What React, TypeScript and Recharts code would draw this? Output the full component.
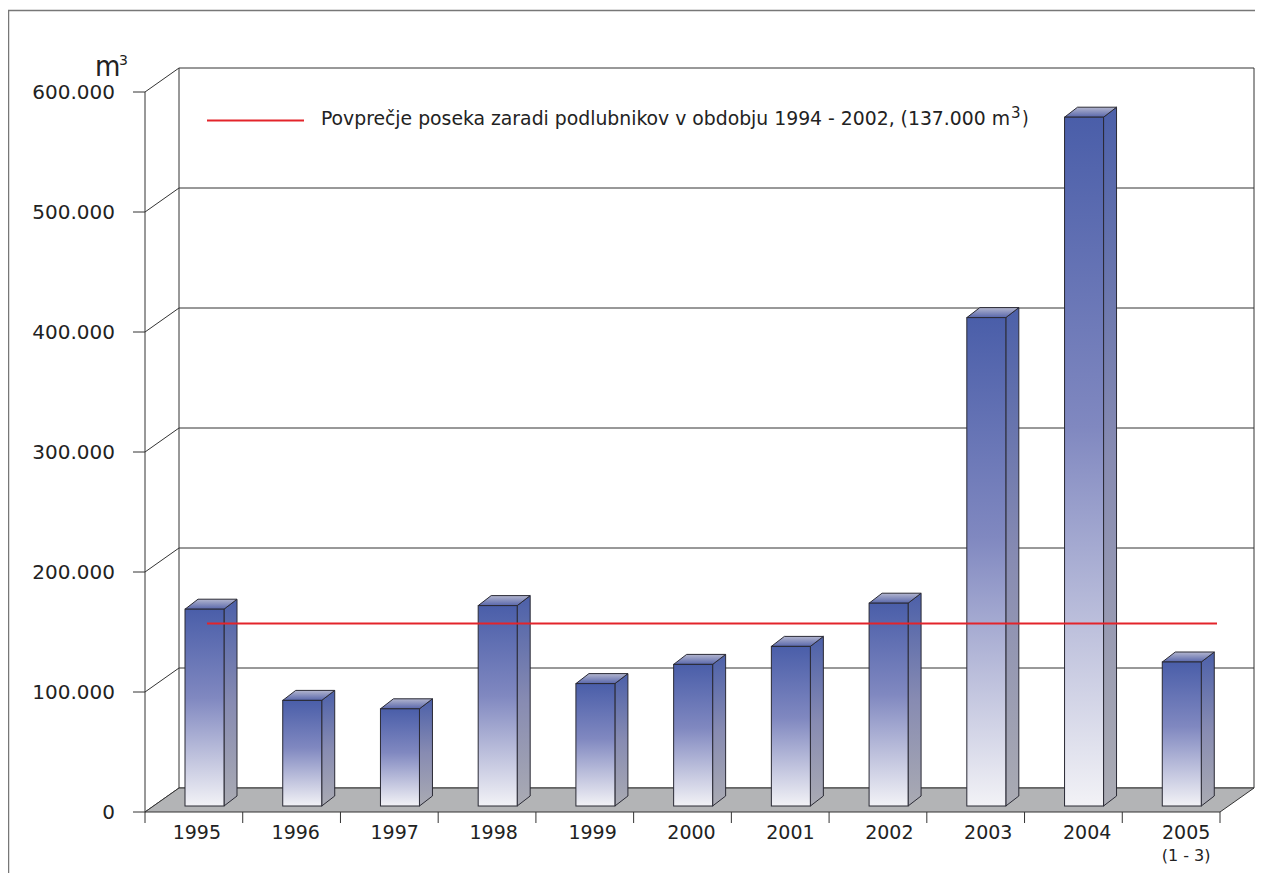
import { BarChart, Bar, XAxis, YAxis, CartesianGrid, ReferenceLine, Customized } from "recharts"

// yearly sanitary felling caused by bark beetles, m3
const years = ["1995", "1996", "1997", "1998", "1999", "2000", "2001", "2002", "2003", "2004", "2005"]
const yearNotes = ["", "", "", "", "", "", "", "", "", "", "(1 - 3)"]
const volumes = [164000, 88000, 81000, 167000, 102000, 118000, 133000, 169000, 407000, 574000, 120000]
const yTicks = [0, 100000, 200000, 300000, 400000, 500000, 600000]
const AVERAGE = 137000
const legendText = "Povprečje poseka zaradi podlubnikov v obdobju 1994 - 2002,  (137.000 m"

const data = years.map((year, i) => ({ year, volume: volumes[i] }))

// chart box and the fake 3D depth of the back wall
const W = 1255
const H = 873
const LEFT = 137
const RIGHT = 1212
const TOP = 84
const BOTTOM = 804
const DX = 34
const DY = -24
// bars sit a bit behind the front plane and have their own depth
const BAR_SHIFT_X = 11
const BAR_SHIFT_Y = -6
const BAR_DX = 13
const BAR_DY = -10

const LINE = "#333"
const RED = "#e3242b"
const FONT = "'DejaVu Sans', sans-serif"
const CONDENSED = "'DejaVu Sans Condensed', 'DejaVu Sans', sans-serif"

const fmt = (v: number) => (v === 0 ? "0" : v.toLocaleString("de-DE"))

const Backdrop = () => (
  <g>
    <defs>
      <linearGradient id="barFront" x1="0" y1="0" x2="0" y2="1">
        <stop offset="0" stopColor="#4a5ea9" />
        <stop offset="0.45" stopColor="#8088c0" />
        <stop offset="0.75" stopColor="#bfc2dd" />
        <stop offset="1" stopColor="#f2f2f6" />
      </linearGradient>
      <linearGradient id="barSide" x1="0" y1="0" x2="0" y2="1">
        <stop offset="0" stopColor="#4c60a9" />
        <stop offset="0.5" stopColor="#878bb2" />
        <stop offset="1" stopColor="#aaabb3" />
      </linearGradient>
      <linearGradient id="barTop" x1="0" y1="0" x2="0" y2="1">
        <stop offset="0" stopColor="#b3b6cf" />
        <stop offset="1" stopColor="#5866ab" />
      </linearGradient>
    </defs>
    {/* page frame */}
    <line x1={0} y1={2.5} x2={W} y2={2.5} stroke="#777" strokeWidth={1.5} />
    <line x1={0.5} y1={2} x2={0.5} y2={H} stroke="#777" strokeWidth={1.5} />
    {/* back wall edges */}
    <line x1={LEFT + DX} y1={TOP + DY} x2={LEFT + DX} y2={BOTTOM + DY} stroke={LINE} />
    <line x1={RIGHT + DX} y1={TOP + DY} x2={RIGHT + DX} y2={BOTTOM + DY} stroke={LINE} />
    {/* floor */}
    <polygon
      points={`${LEFT},${BOTTOM} ${RIGHT},${BOTTOM} ${RIGHT + DX},${BOTTOM + DY} ${LEFT + DX},${BOTTOM + DY}`}
      fill="#b3b4b6"
      stroke={LINE}
    />
    {/* unit */}
    <text x={87} y={68} fontSize={29} fill="#222" fontFamily={CONDENSED}>m</text>
    <text x={111} y={57} fontSize={14} fill="#222" fontFamily={FONT}>3</text>
    {/* legend */}
    <line x1={199} y1={112.5} x2={296} y2={112.5} stroke={RED} strokeWidth={2} />
    <text
      x={313}
      y={117}
      fontSize={19}
      fill="#222"
      fontFamily={CONDENSED}
      textLength={689}
      lengthAdjust="spacingAndGlyphs"
    >
      {legendText}
    </text>
    <text x={1003} y={110} fontSize={15} fill="#222" fontFamily={FONT}>3</text>
    <text x={1014} y={117} fontSize={19} fill="#222" fontFamily={CONDENSED}>)</text>
  </g>
)

// gridline on the back wall plus the diagonal back to the front axis
const wallLine = (props: any) => {
  const y = props.y1
  return (
    <g key={`wall-${props.index}`}>
      <line x1={LEFT} y1={y} x2={LEFT + DX} y2={y + DY} stroke={LINE} />
      <line x1={LEFT + DX} y1={y + DY} x2={RIGHT + DX} y2={y + DY} stroke={LINE} />
    </g>
  )
}

const Box3D = (props: any) => {
  const { x, y, width, height } = props
  if (!height || height <= 0) return null
  const fx = x + BAR_SHIFT_X
  const fy = y + BAR_SHIFT_Y
  const w = width
  const h = height
  const stroke = "#2a2a35"
  return (
    <g>
      <polygon
        points={`${fx + w},${fy} ${fx + w + BAR_DX},${fy + BAR_DY} ${fx + w + BAR_DX},${fy + h + BAR_DY} ${fx + w},${fy + h}`}
        fill="url(#barSide)"
        stroke={stroke}
      />
      <polygon
        points={`${fx},${fy} ${fx + BAR_DX},${fy + BAR_DY} ${fx + w + BAR_DX},${fy + BAR_DY} ${fx + w},${fy}`}
        fill="url(#barTop)"
        stroke={stroke}
      />
      <rect x={fx} y={fy} width={w} height={h} fill="url(#barFront)" stroke={stroke} />
    </g>
  )
}

const YearTick = (props: any) => {
  const { x, payload, index, visibleTicksCount } = props
  const half = payload?.offset ?? (RIGHT - LEFT) / years.length / 2
  const note = yearNotes[index]
  // labels drift slightly right across the axis
  const lx = x + 3 + index * 1.2
  return (
    <g>
      <line x1={x - half} y1={BOTTOM} x2={x - half} y2={BOTTOM + 11} stroke={LINE} />
      {index === visibleTicksCount - 1 && (
        <line x1={x + half} y1={BOTTOM} x2={x + half} y2={BOTTOM + 11} stroke={LINE} />
      )}
      <text x={lx} y={BOTTOM + 27} textAnchor="middle" fontSize={19} fill="#222" fontFamily={FONT}>
        {payload.value}
      </text>
      {note && (
        <text x={lx} y={BOTTOM + 49} textAnchor="middle" fontSize={16} fill="#222" fontFamily={FONT}>
          {note}
        </text>
      )}
    </g>
  )
}

export default function App() {
  return (
    // negative bottom margin cancels the body margin so the page doesn't scroll
    <div style={{ width: W, height: H, marginBottom: -8, overflow: "hidden", fontFamily: FONT }}>
      <BarChart
        width={W}
        height={H}
        data={data}
        margin={{ top: TOP, right: W - RIGHT, left: LEFT - 100, bottom: H - BOTTOM - 40 }}
        barSize={39}
      >
        <Customized component={<Backdrop />} />
        <CartesianGrid vertical={false} horizontal={wallLine} />
        <XAxis dataKey="year" height={40} axisLine={false} tickLine={false} tick={<YearTick />} interval={0} />
        <YAxis
          width={100}
          domain={[0, 600000]}
          ticks={yTicks}
          interval={0}
          tickFormatter={fmt}
          tickSize={12}
          tickMargin={18}
          axisLine={{ stroke: LINE }}
          tickLine={{ stroke: LINE }}
          tick={{ fontSize: 20, fill: "#222", fontFamily: FONT }}
        />
        <Bar dataKey="volume" shape={<Box3D />} isAnimationActive={false} />
        <ReferenceLine
          y={AVERAGE}
          shape={(p: any) => (
            <line x1={LEFT + 62} y1={p.y1 + DY} x2={RIGHT - 3} y2={p.y2 + DY} stroke={RED} strokeWidth={2} />
          )}
        />
      </BarChart>
    </div>
  )
}
